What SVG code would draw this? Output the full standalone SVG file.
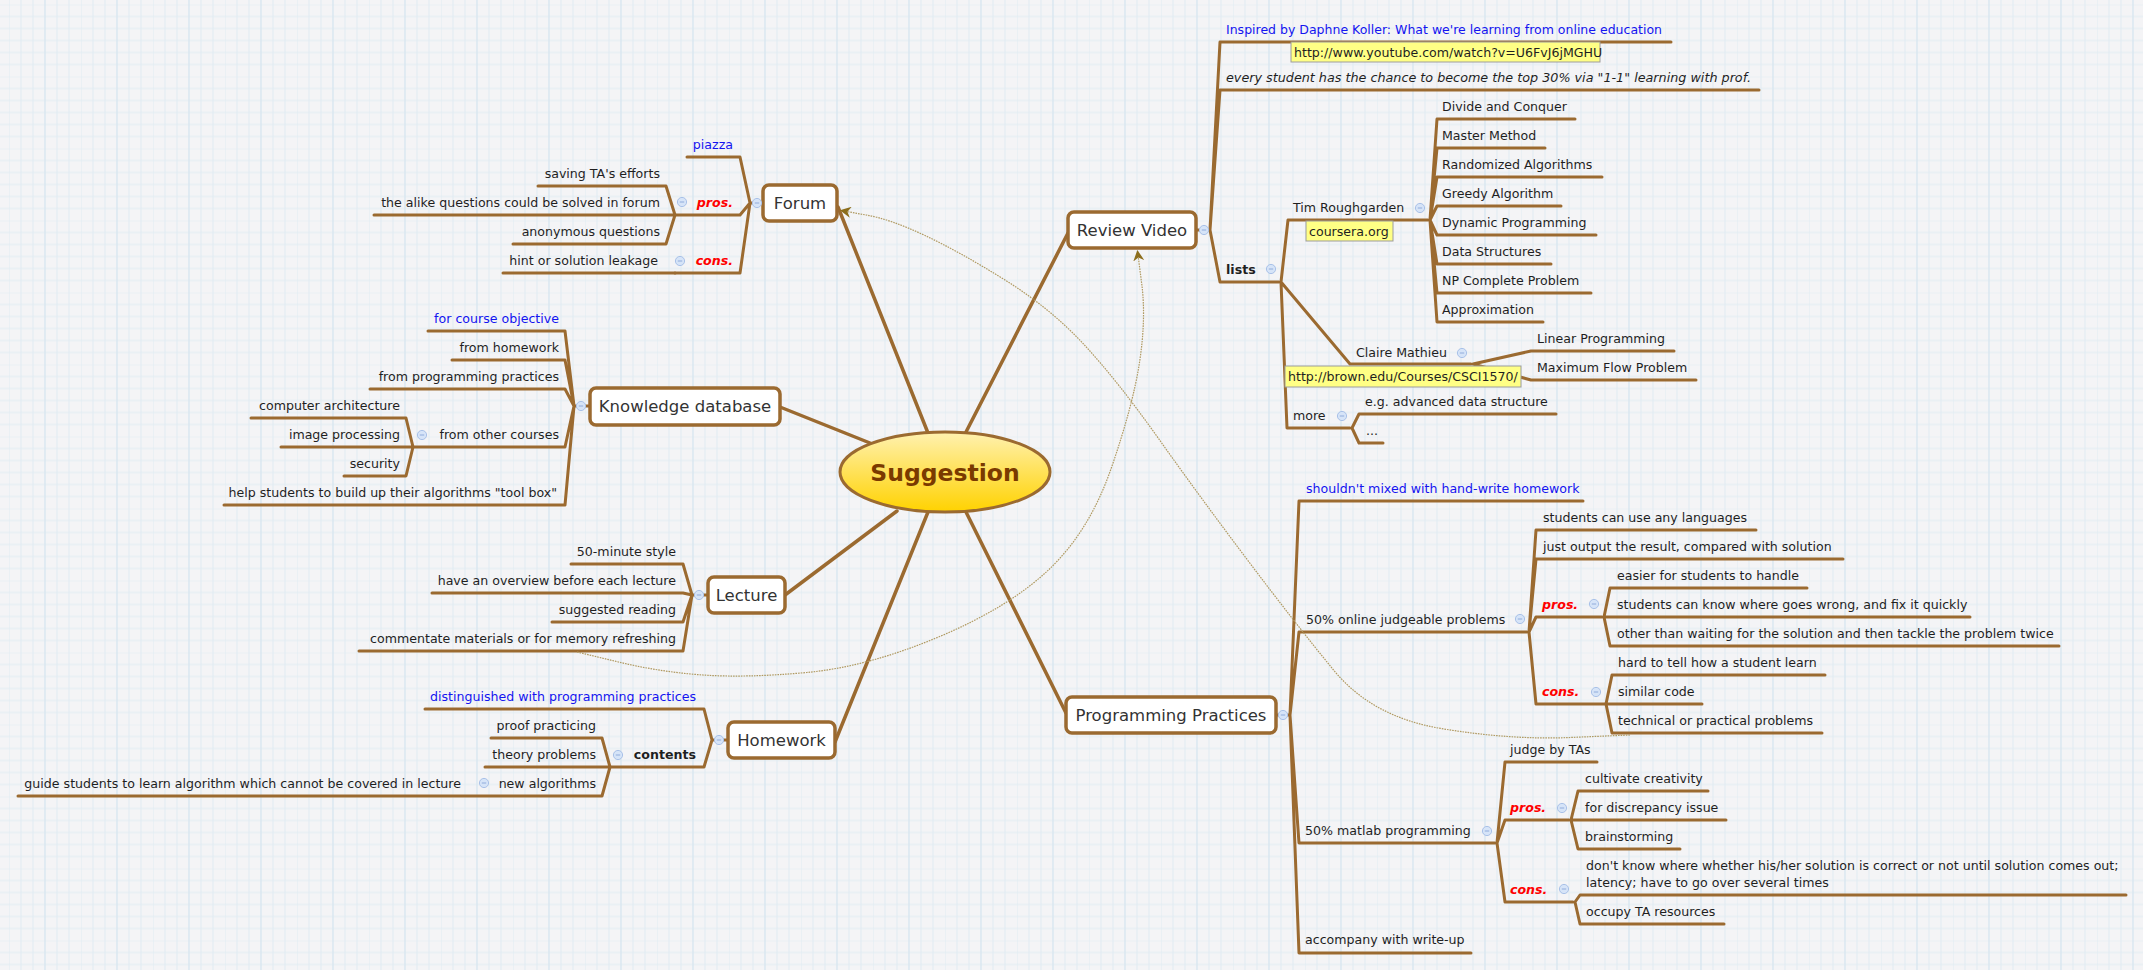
<svg xmlns="http://www.w3.org/2000/svg" xmlns:xlink="http://www.w3.org/1999/xlink" width="2143" height="970" viewBox="0 0 2143 970">
<defs>
<pattern id="grid" x="9" y="4.5" width="72" height="72" patternUnits="userSpaceOnUse">
<path d="M0,0V72M12,0V72M24,0V72M36,0V72M48,0V72M60,0V72M0,0H72M0,12H72M0,24H72M0,36H72M0,48H72M0,60H72" stroke="#e0ebf2" stroke-width="1" fill="none"/>
<path d="M36,0V72" stroke="#d7e5ef" stroke-width="1" fill="none"/>
</pattern>
<linearGradient id="cg" x1="0" y1="0" x2="0" y2="1">
<stop offset="0" stop-color="#fff1b0"/>
<stop offset="1" stop-color="#ffd200"/>
</linearGradient>
<g id="cc"><circle r="4.6" fill="#d6e4f8" stroke="#a9c1e8" stroke-width="1"/><path d="M-2.2,0H2.2" stroke="#8aa6d8" stroke-width="0.9"/></g>
<marker id="arr" viewBox="0 0 10 10" refX="9" refY="5" markerWidth="11" markerHeight="11" markerUnits="userSpaceOnUse" orient="auto">
<path d="M0,0L10,5L0,10L3,5Z" fill="#8c6d1c"/>
</marker>
</defs>
<style>
.t{font-family:"DejaVu Sans","Noto Sans",sans-serif;font-size:12.6px;fill:#1f1f1f}
.e{text-anchor:end}
.bl{fill:#1414f0}
.rd{fill:#ff0000;font-weight:bold;font-style:italic}
.b{font-weight:bold}
.it{font-style:italic}
.tp{font-family:"DejaVu Sans","Noto Sans",sans-serif;font-size:16.5px;fill:#333;text-anchor:middle}
.box{fill:#fff;stroke:#9b6a30;stroke-width:3.5}
.ln{fill:none;stroke:#9b6a30;stroke-width:3;stroke-linejoin:round;stroke-linecap:round}
.br{stroke-width:3.5}
.lbl{fill:#ffff85;stroke:#9c9c9c;stroke-width:1}
.rel{fill:none;stroke:#b09a62;stroke-width:1.2;stroke-dasharray:1.6 1}
</style>
<rect width="2143" height="970" fill="#f4f4f6"/>
<rect width="2143" height="970" fill="url(#grid)"/>

<g id="connectors">
<path class="ln br" d="M838,207L928,433M780,407L870,443M785,595L897,511M835,742L928,512M966,432L1068,233M966,512L1066,713"/>
<path class="ln" d="M763,203L750,203M687,157L740,157L750,203M675,215L740,215L750,203M675,273L740,273L750,203"/>
<path class="ln" d="M538,186L666,186L675,215M374,215L675,215M513,244L666,244L675,215M503,273L675,273"/>
<path class="ln" d="M590,406L574,406M428,331L565,331L574,406M452,360L565,360L574,406M370,389L565,389L574,406M413,447L565,447L574,406M224,505L565,505L574,406"/>
<path class="ln" d="M251,418L406,418L413,447M281,447L413,447M344,476L406,476L413,447"/>
<path class="ln" d="M708,595L692,595M571,564L683,564L692,595M432,593L683,593L692,595M552,622L683,622L692,595M359,651L683,651L692,595"/>
<path class="ln" d="M728,740L712,740M425,709L704,709L712,740M610,767L704,767L712,740"/>
<path class="ln" d="M491,738L602,738L610,767M485,767L610,767M478,796L602,796L610,767M18,796L478,796"/>
<path class="ln" d="M1196,230L1210,230M1671,42L1220,42L1210,230M1759,90L1220,90L1210,230M1279,282L1220,282L1210,230"/>
<path class="ln" d="M1428,220L1288,220L1281,282M1471,364L1350,364L1281,282M1350,428L1287,428L1281,282"/>
<path class="ln" d="M1575,119L1437,119L1430,220M1545,148L1437,148L1430,220M1602,177L1437,177L1430,220M1561,206L1437,206L1430,220M1596,235L1437,235L1430,220M1551,264L1437,264L1430,220M1591,293L1437,293L1430,220M1543,322L1437,322L1430,220"/>
<path class="ln" d="M1674,351L1531,351L1473,364M1696,380L1531,380L1473,364"/>
<path class="ln" d="M1556,414L1359,414L1352,428M1383,443L1359,443L1352,428"/>
<path class="ln" d="M1276,715L1290,715M1583,501L1299,501L1290,715M1527,632L1299,632L1290,715M1495,843L1299,843L1290,715M1471,953L1299,953L1290,715"/>
<path class="ln" d="M1756,530L1536,530L1529,632M1843,559L1536,559L1529,632M1602,617L1536,617L1529,632M1605,704L1536,704L1529,632"/>
<path class="ln" d="M1807,588L1610,588L1604,617M1970,617L1604,617M2059,646L1610,646L1604,617"/>
<path class="ln" d="M1825,675L1612,675L1606,704M1702,704L1606,704M1822,733L1612,733L1606,704"/>
<path class="ln" d="M1597,762L1505,762L1497,843M1569,820L1505,820L1497,843M1573,902L1505,902L1497,843"/>
<path class="ln" d="M1708,791L1578,791L1571,820M1726,820L1571,820M1680,849L1578,849L1571,820"/>
<path class="ln" d="M2126,895L1580,895L1575,902M1724,924L1580,924L1575,902"/>
<path class="rel" marker-end="url(#arr)" d="M577,652L618.5,662Q660,672 703,675Q746,678 806.5,672.5Q867,667 938.5,637Q1010,607 1050,568.5Q1090,530 1111.5,467.5Q1133,405 1139.5,362.5Q1146,320 1142,286L1137.5,251"/>
<path class="rel" marker-end="url(#arr)" d="M1630,735L1570,737.5Q1510,740 1441,728.5Q1372,717 1333.5,670Q1295,623 1247.5,560Q1200,497 1158.5,438.5Q1117,380 1083.5,344Q1050,308 1005,280Q960,252 925,235.5Q890,219 866,215L841,210.5"/>
</g>

<g id="central">
<ellipse cx="945" cy="472" rx="105" ry="40" fill="url(#cg)" stroke="#9b6a30" stroke-width="3"/>
<text x="945" y="480.5" text-anchor="middle" style="font-family:'DejaVu Sans','Noto Sans',sans-serif;font-size:23.5px;font-weight:bold;fill:#7a3a00">Suggestion</text>
</g>

<g id="forum">
<rect class="box" x="763" y="185" width="74" height="36" rx="6"/>
<text class="tp" x="800" y="209">Forum</text>
<use xlink:href="#cc" x="757" y="203"/>
</g>
<g id="forum-piazza"><text class="t e bl" x="733" y="149">piazza</text></g>
<g id="forum-pros"><text class="t e rd" x="733" y="207">pros.</text><use xlink:href="#cc" x="682" y="202"/></g>
<g id="forum-pros-1"><text class="t e" x="660" y="178">saving TA's efforts</text></g>
<g id="forum-pros-2"><text class="t e" x="660" y="207">the alike questions could be solved in forum</text></g>
<g id="forum-pros-3"><text class="t e" x="660" y="236">anonymous questions</text></g>
<g id="forum-cons"><text class="t e rd" x="733" y="265">cons.</text><use xlink:href="#cc" x="680" y="261"/></g>
<g id="forum-cons-1"><text class="t e" x="658" y="265">hint or solution leakage</text></g>

<g id="kd">
<rect class="box" x="590" y="388" width="190" height="37" rx="6"/>
<text class="tp" x="685" y="412">Knowledge database</text>
<use xlink:href="#cc" x="581" y="406"/>
</g>
<g id="kd-1"><text class="t e bl" x="559" y="323">for course objective</text></g>
<g id="kd-2"><text class="t e" x="559" y="352">from homework</text></g>
<g id="kd-3"><text class="t e" x="559" y="381">from programming practices</text></g>
<g id="kd-4"><text class="t e" x="559" y="439">from other courses</text><use xlink:href="#cc" x="422" y="435"/></g>
<g id="kd-4-1"><text class="t e" x="400" y="410">computer architecture</text></g>
<g id="kd-4-2"><text class="t e" x="400" y="439">image processing</text></g>
<g id="kd-4-3"><text class="t e" x="400" y="468">security</text></g>
<g id="kd-5"><text class="t e" x="557" y="497">help students to build up their algorithms "tool box"</text></g>

<g id="lecture">
<rect class="box" x="708" y="577" width="77" height="36" rx="6"/>
<text class="tp" x="746.5" y="601">Lecture</text>
<use xlink:href="#cc" x="699" y="595"/>
</g>
<g id="lecture-1"><text class="t e" x="676" y="556">50-minute style</text></g>
<g id="lecture-2"><text class="t e" x="676" y="585">have an overview before each lecture</text></g>
<g id="lecture-3"><text class="t e" x="676" y="614">suggested reading</text></g>
<g id="lecture-4"><text class="t e" x="676" y="643">commentate materials or for memory refreshing</text></g>

<g id="homework">
<rect class="box" x="728" y="722" width="107" height="36" rx="6"/>
<text class="tp" x="781.5" y="746">Homework</text>
<use xlink:href="#cc" x="719" y="740"/>
</g>
<g id="hw-1"><text class="t e bl" x="696" y="701">distinguished with programming practices</text></g>
<g id="hw-2"><text class="t e b" x="696" y="759">contents</text><use xlink:href="#cc" x="618" y="755"/></g>
<g id="hw-2-1"><text class="t e" x="596" y="730">proof practicing</text></g>
<g id="hw-2-2"><text class="t e" x="596" y="759">theory problems</text></g>
<g id="hw-2-3"><text class="t e" x="596" y="788">new algorithms</text><use xlink:href="#cc" x="484" y="783"/></g>
<g id="hw-2-3-1"><text class="t e" x="461" y="788">guide students to learn algorithm which cannot be covered in lecture</text></g>

<g id="review">
<rect class="box" x="1068" y="212" width="128" height="36" rx="6"/>
<text class="tp" x="1132" y="236">Review Video</text>
<use xlink:href="#cc" x="1204" y="230"/>
</g>
<g id="rv-1"><text class="t bl" x="1226" y="34" textLength="436" lengthAdjust="spacingAndGlyphs">Inspired by Daphne Koller: What we're learning from online education</text>
<rect class="lbl" x="1291" y="42" width="309" height="20"/><text class="t" x="1294" y="56.5">http://www.youtube.com/watch?v=U6FvJ6jMGHU</text></g>
<g id="rv-2"><text class="t it" x="1226" y="82" textLength="525" lengthAdjust="spacingAndGlyphs">every student has the chance to become the top 30% via "1-1" learning with prof.</text></g>
<g id="rv-3"><text class="t b" x="1226" y="274">lists</text><use xlink:href="#cc" x="1271" y="269"/></g>
<g id="rv-3-1"><text class="t" x="1293" y="212">Tim Roughgarden</text><use xlink:href="#cc" x="1420" y="208"/>
<rect class="lbl" x="1306" y="221" width="87" height="20"/><text class="t" x="1309" y="235.5">coursera.org</text></g>
<g id="tim-1"><text class="t" x="1442" y="111">Divide and Conquer</text></g>
<g id="tim-2"><text class="t" x="1442" y="140">Master Method</text></g>
<g id="tim-3"><text class="t" x="1442" y="169">Randomized Algorithms</text></g>
<g id="tim-4"><text class="t" x="1442" y="198">Greedy Algorithm</text></g>
<g id="tim-5"><text class="t" x="1442" y="227">Dynamic Programming</text></g>
<g id="tim-6"><text class="t" x="1442" y="256">Data Structures</text></g>
<g id="tim-7"><text class="t" x="1442" y="285">NP Complete Problem</text></g>
<g id="tim-8"><text class="t" x="1442" y="314">Approximation</text></g>
<g id="rv-3-2"><text class="t" x="1356" y="357">Claire Mathieu</text><use xlink:href="#cc" x="1462" y="353"/>
<rect class="lbl" x="1285" y="366" width="236" height="21"/><text class="t" x="1288" y="381">http://brown.edu/Courses/CSCI1570/</text></g>
<g id="claire-1"><text class="t" x="1537" y="343">Linear Programming</text></g>
<g id="claire-2"><text class="t" x="1537" y="372">Maximum Flow Problem</text></g>
<g id="rv-3-3"><text class="t" x="1293" y="420">more</text><use xlink:href="#cc" x="1342" y="416"/></g>
<g id="more-1"><text class="t" x="1365" y="406">e.g. advanced data structure</text></g>
<g id="more-2"><text class="t" x="1366" y="435">...</text></g>

<g id="pp">
<rect class="box" x="1066" y="697" width="210" height="36" rx="6"/>
<text class="tp" x="1171" y="721">Programming Practices</text>
<use xlink:href="#cc" x="1283" y="715"/>
</g>
<g id="pp-1"><text class="t bl" x="1306" y="493">shouldn't mixed with hand-write homework</text></g>
<g id="pp-2"><text class="t" x="1306" y="624">50% online judgeable problems</text><use xlink:href="#cc" x="1520" y="619"/></g>
<g id="pp-2-1"><text class="t" x="1543" y="522">students can use any languages</text></g>
<g id="pp-2-2"><text class="t" x="1543" y="551">just output the result, compared with solution</text></g>
<g id="pp-2-3"><text class="t rd" x="1542" y="609">pros.</text><use xlink:href="#cc" x="1594" y="604"/></g>
<g id="pp-2-3-1"><text class="t" x="1617" y="580">easier for students to handle</text></g>
<g id="pp-2-3-2"><text class="t" x="1617" y="609">students can know where goes wrong, and fix it quickly</text></g>
<g id="pp-2-3-3"><text class="t" x="1617" y="638">other than waiting for the solution and then tackle the problem twice</text></g>
<g id="pp-2-4"><text class="t rd" x="1542" y="696">cons.</text><use xlink:href="#cc" x="1596" y="692"/></g>
<g id="pp-2-4-1"><text class="t" x="1618" y="667">hard to tell how a student learn</text></g>
<g id="pp-2-4-2"><text class="t" x="1618" y="696">similar code</text></g>
<g id="pp-2-4-3"><text class="t" x="1618" y="725">technical or practical problems</text></g>
<g id="pp-3"><text class="t" x="1305" y="835">50% matlab programming</text><use xlink:href="#cc" x="1487" y="831"/></g>
<g id="pp-3-1"><text class="t" x="1510" y="754">judge by TAs</text></g>
<g id="pp-3-2"><text class="t rd" x="1510" y="812">pros.</text><use xlink:href="#cc" x="1562" y="808"/></g>
<g id="pp-3-2-1"><text class="t" x="1585" y="783">cultivate creativity</text></g>
<g id="pp-3-2-2"><text class="t" x="1585" y="812">for discrepancy issue</text></g>
<g id="pp-3-2-3"><text class="t" x="1585" y="841">brainstorming</text></g>
<g id="pp-3-3"><text class="t rd" x="1510" y="894">cons.</text><use xlink:href="#cc" x="1564" y="889"/></g>
<g id="pp-3-3-1"><text class="t" x="1586" y="869.5">don't know where whether his/her solution is correct or not until solution comes out;</text><text class="t" x="1586" y="886.5">latency; have to go over several times</text></g>
<g id="pp-3-3-2"><text class="t" x="1586" y="915.5">occupy TA resources</text></g>
<g id="pp-4"><text class="t" x="1305" y="944">accompany with write-up</text></g>
</svg>
